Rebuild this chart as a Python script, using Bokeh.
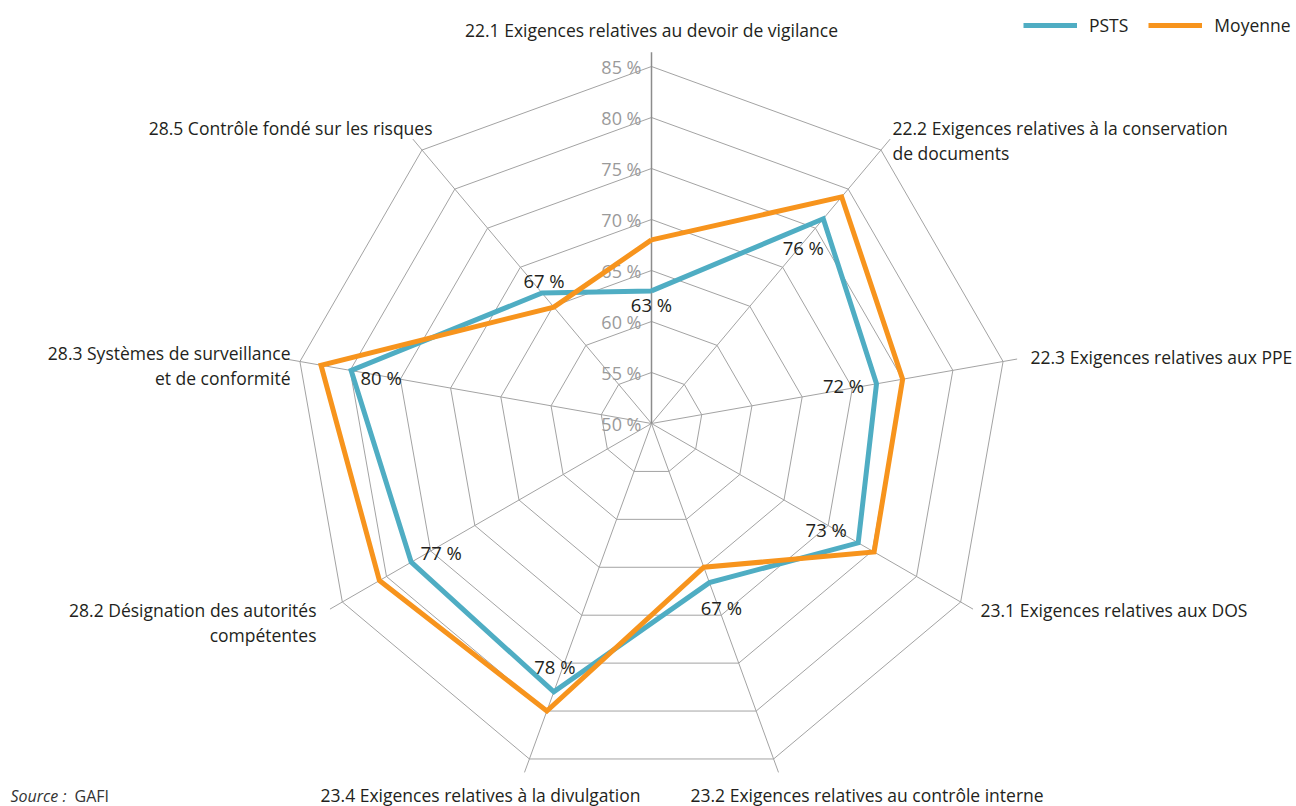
import numpy as np
from bokeh.plotting import figure
from bokeh.models import ColumnDataSource, Range1d, Legend, LegendItem
from bokeh.core.properties import value
from bokeh.embed import file_html
from bokeh.resources import INLINE

# ---------------- data ----------------
categories = [
    "22.1 Exigences relatives au devoir de vigilance",
    "22.2 Exigences relatives à la conservation\nde documents",
    "22.3 Exigences relatives aux PPE",
    "23.1 Exigences relatives aux DOS",
    "23.2 Exigences relatives au contrôle interne",
    "23.4 Exigences relatives à la divulgation",
    "28.2 Désignation des autorités\ncompétentes",
    "28.3 Systèmes de surveillance\net de conformité",
    "28.5 Contrôle fondé sur les risques",
]
psts = [63.0, 76.2, 72.4, 73.4, 66.6, 78.0, 77.2, 79.9, 66.7]
moyenne = [68.0, 79.0, 75.0, 75.2, 65.0, 80.0, 80.8, 82.9, 64.9]
series_names = ["PSTS", "Moyenne"]
ticks = [50, 55, 60, 65, 70, 75, 80, 85]
tick_labels = ["50 %", "55 %", "60 %", "65 %", "70 %", "75 %", "80 %", "85 %"]
source_label = ["Source :", "GAFI"]

# ---------------- styles / layout ----------------
W, H = 1296, 806
CX, CY = 651, 423          # centre of the radar in screen pixels
R_MIN, R_MAX = 50, 85
PX_PER_UNIT = 357.0 / (R_MAX - R_MIN)
SPOKE_END = 86.4
FONT = "Open Sans"
TEXT_COLOR = "#231F20"
GRID_COLOR = "#A3A3A3"
COL_PSTS = "#4FADC3"
COL_MOY = "#F7941D"
CAT_SIZE = "17.5px"

# category label anchors (screen px): list of (x, y_first_line, align)
label_layout = [
    (651, 29, "center"),
    (892, 127, "left"),
    (1030, 356, "left"),
    (980, 609, "left"),
    (690, 794, "left"),
    (640, 794, "right"),
    (316, 609, "right"),
    (290, 352, "right"),
    (432, 127, "right"),
]
LINE_STEP = 25
# data label offsets in px (dx right, dy down) relative to the PSTS point
data_label_offsets = [(0, 14), (-20, 29), (-33, 2), (-32, -13), (12, 25),
                      (1, -25), (30, -10), (30, 7), (2, -13)]

n = len(categories)
angles = np.arange(n) * 2 * np.pi / n


def to_xy(vals):
    r = (np.asarray(vals, dtype=float) - R_MIN) * PX_PER_UNIT
    return list(r * np.sin(angles)), list(r * np.cos(angles))


p = figure(width=W, height=H, output_backend="svg", toolbar_location=None,
           x_range=Range1d(-CX, W - CX), y_range=Range1d(CY - H, CY),
           min_border=0, outline_line_color=None)
p.axis.visible = False
p.grid.visible = False
p.background_fill_color = "white"
p.border_fill_color = "white"

# rings
ring_xs, ring_ys = [], []
for t in ticks[1:]:
    xs, ys = to_xy([t] * n)
    ring_xs.append(xs + [xs[0]])
    ring_ys.append(ys + [ys[0]])
p.multi_line(ring_xs, ring_ys, line_color=GRID_COLOR, line_width=1)

# spokes
sx, sy = to_xy([SPOKE_END] * n)
p.segment(x0=[0] * (n - 1), y0=[0] * (n - 1), x1=sx[1:], y1=sy[1:],
          line_color=GRID_COLOR, line_width=1)
p.segment(x0=[0], y0=[0], x1=[sx[0]], y1=[sy[0]], line_color="#8C8C8C", line_width=1.5)

# tick labels
tick_y = [(t - R_MIN) * PX_PER_UNIT for t in ticks]
p.text(x=[-10] * len(ticks), y=tick_y, text=tick_labels, text_align="right",
       text_baseline="middle", text_font=value(FONT), text_font_size="18px",
       text_color="#9A9A9A")

# series
px_, py_ = to_xy(psts)
mx_, my_ = to_xy(moyenne)
r_psts = p.line(px_ + [px_[0]], py_ + [py_[0]], line_color=COL_PSTS, line_width=5,
                line_join="miter")
r_moy = p.line(mx_ + [mx_[0]], my_ + [my_[0]], line_color=COL_MOY, line_width=5,
               line_join="miter")

# data labels
lab_src = ColumnDataSource(dict(
    x=[x + d[0] for x, d in zip(px_, data_label_offsets)],
    y=[y - d[1] for y, d in zip(py_, data_label_offsets)],
    t=[f"{round(v)} %" for v in psts],
))
p.text(x="x", y="y", text="t", source=lab_src, text_align="center",
       text_baseline="middle", text_font=value(FONT), text_font_size="18.5px",
       text_color=TEXT_COLOR)

# category labels
cx_l, cy_l, ct_l, ca_l = [], [], [], []
for cat, (lx, ly, al) in zip(categories, label_layout):
    for k, line in enumerate(cat.split("\n")):
        cx_l.append(lx - CX)
        cy_l.append(CY - (ly + k * LINE_STEP))
        ct_l.append(line)
        ca_l.append(al)
cat_src = ColumnDataSource(dict(x=cx_l, y=cy_l, t=ct_l, a=ca_l))
p.text(x="x", y="y", text="t", text_align="a", source=cat_src,
       text_baseline="middle", text_font=value(FONT), text_font_size=CAT_SIZE,
       text_color=TEXT_COLOR)

# source
p.text(x=[10 - CX], y=[CY - 795], text=[source_label[0]], text_align="left",
       text_baseline="middle", text_font=value(FONT), text_font_size="16px",
       text_font_style="italic", text_color="#333333")
p.text(x=[74 - CX], y=[CY - 795], text=[source_label[1]], text_align="left",
       text_baseline="middle", text_font=value(FONT), text_font_size="16px",
       text_color="#333333")

legend = Legend(items=[LegendItem(label=series_names[0], renderers=[r_psts]),
                       LegendItem(label=series_names[1], renderers=[r_moy])],
                orientation="horizontal", location=(1023, H - 37),
                glyph_width=54, glyph_height=20, label_height=20,
                label_standoff=12, spacing=20, padding=0, margin=0,
                border_line_color=None, background_fill_alpha=0,
                label_text_font=FONT, label_text_font_size=CAT_SIZE,
                label_text_color=TEXT_COLOR)
p.add_layout(legend, "center")

open("out.html", "w").write(file_html(p, INLINE))
